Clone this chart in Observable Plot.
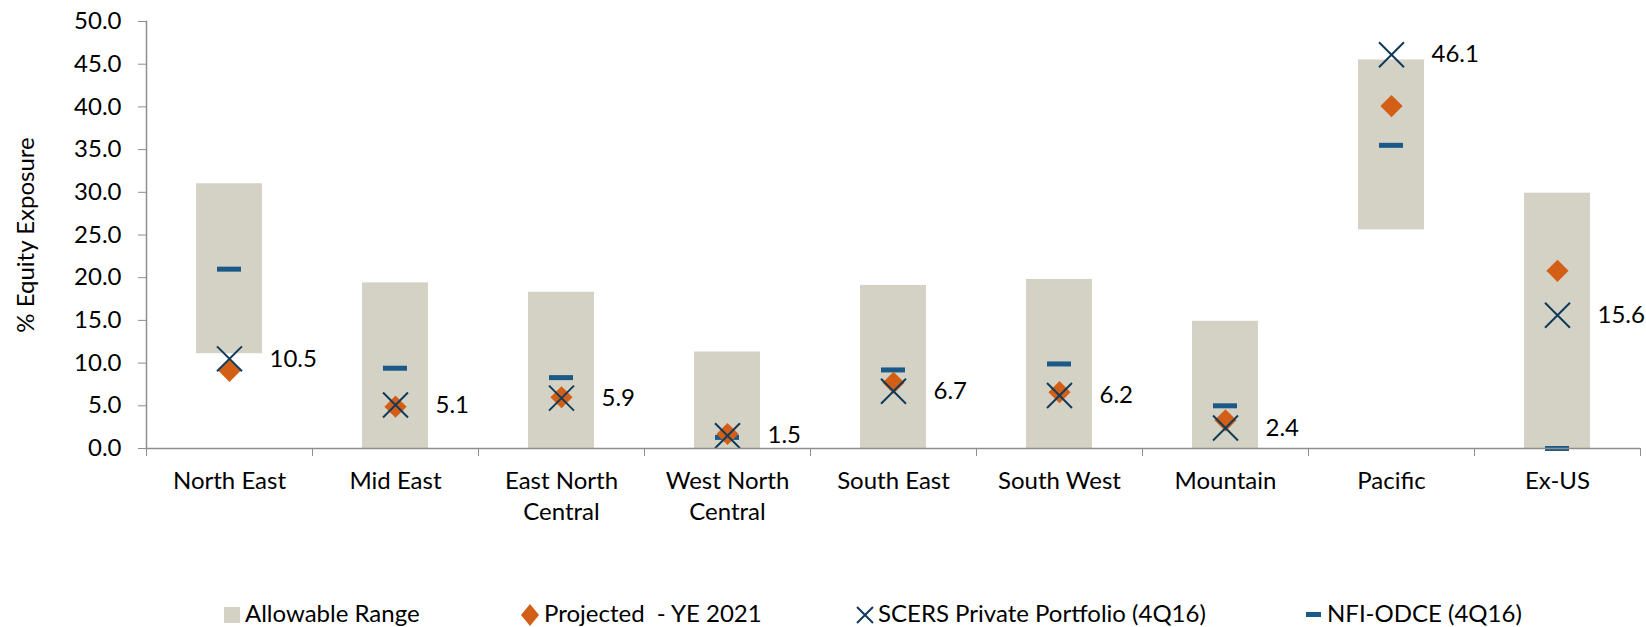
<!DOCTYPE html>
<html>
<head>
<meta charset="utf-8">
<script src="https://cdn.jsdelivr.net/npm/d3@7"></script>
<script src="https://cdn.jsdelivr.net/npm/@observablehq/plot@0.6"></script>
<style>
  html, body { margin: 0; padding: 0; background: #fff; }
  body { font-family: Lato, "Liberation Sans", sans-serif; }
  #wrap { width: 1646px; }
  #legend { position: relative; width: 1646px; height: 37px; font-size: 24px; color: #000; }
  #legend .item { position: absolute; top: 11px; line-height: 24px; white-space: pre; }
  #legend .mk { position: absolute; line-height: 0; }
  #legend .mk svg, #legend .mk div { display: block; }
</style>
</head>
<body>
<div id="wrap">
  <div id="chart"></div>
  <div id="legend"></div>
</div>
<script>
// ---- data ----
const categories = ["North East", "Mid East", "East North Central", "West North Central", "South East", "South West", "Mountain", "Pacific", "Ex-US"];
const categoryLabels = ["North East", "Mid East", "East North\nCentral", "West North\nCentral", "South East", "South West", "Mountain", "Pacific", "Ex-US"];
const rangeLow  = [11.1, 0, 0, 0, 0, 0, 0, 25.6, 0];
const rangeHigh = [31.0, 19.4, 18.3, 11.3, 19.1, 19.8, 14.9, 45.5, 29.9];
const projected = [9.1, 4.9, 6.0, 1.7, 7.7, 6.6, 3.3, 40.1, 20.8];
const scers     = [10.5, 5.1, 5.9, 1.5, 6.7, 6.2, 2.4, 46.1, 15.6];
const nfiOdce   = [21.0, 9.4, 8.3, 1.3, 9.2, 9.9, 5.0, 35.5, 0.0];
const yTicks    = [0, 5, 10, 15, 20, 25, 30, 35, 40, 45, 50];
const seriesNames = ["Allowable Range", "Projected  - YE 2021", "SCERS Private Portfolio (4Q16)", "NFI-ODCE (4Q16)"];
const yTitle = "% Equity Exposure";

// ---- styles ----
const C_RANGE = "#d4d2c5", C_PROJ = "#d35f16", C_SCERS = "#0f3b5b", C_NFI = "#1b5a88", C_AXIS = "#8e8e8e";
const FS = 24;
const W = 1646, H = 590, ML = 146, MR = 6, MT = 21, MB = 142;
const step = (W - ML - MR) / categories.length;
const labelOf = new Map(categories.map((c, i) => [c, categoryLabels[i]]));

const data = categories.map((c, i) => ({
  cat: c, low: rangeLow[i], high: rangeHigh[i], proj: projected[i], scers: scers[i], nfi: nfiOdce[i]
}));

const plot = Plot.plot({
  width: W, height: H,
  marginLeft: ML, marginRight: MR, marginTop: MT, marginBottom: MB,
  style: { fontFamily: "Lato, 'Liberation Sans', sans-serif", fontSize: FS + "px", color: "#000", background: "#fff" },
  x: { domain: categories, paddingInner: 0.6, paddingOuter: 0.3, axis: null },
  y: { domain: [0, 50], axis: null },
  marks: [
    Plot.barY(data, { x: "cat", y1: "low", y2: "high", fill: C_RANGE }),
    Plot.tickY(data, { x: "cat", y: "nfi", stroke: C_NFI, strokeWidth: 5, insetLeft: 21, insetRight: 21 }),
    Plot.dot(data, { x: "cat", y: "proj", symbol: "diamond2", r: 10, fill: C_PROJ, stroke: null }),
    Plot.dot(data, { x: "cat", y: "scers", symbol: "times", r: 11.4, stroke: C_SCERS, strokeWidth: 2 }),
    Plot.text(data, { x: "cat", y: "scers", text: d => d.scers.toFixed(1), dx: 40, textAnchor: "start", fontSize: FS, fill: "#000" }),
    // axes lines
    Plot.ruleY([0], { stroke: C_AXIS, strokeWidth: 1.5 }),
    Plot.frame({ anchor: "left", stroke: C_AXIS, strokeWidth: 1.5 }),
    // y axis with title
    Plot.axisY({ ticks: yTicks, tickFormat: d => d.toFixed(1), tickSize: 8, tickPadding: 17, stroke: C_AXIS, fill: "#000", fontSize: FS,
                 label: yTitle, labelAnchor: "center", labelArrow: "none", labelOffset: 130 }),
    // x boundary ticks
    Plot.axisX({ tickSize: 8, tickFormat: () => "", dx: -step / 2, stroke: C_AXIS, label: null }),
    Plot.axisX({ ticks: [categories[categories.length - 1]], tickSize: 8, tickFormat: () => "", dx: step / 2, stroke: C_AXIS, label: null }),
    // x category labels
    Plot.axisX({ tickSize: 0, tickPadding: 19, tickFormat: d => labelOf.get(d), fontSize: FS, lineHeight: 1.28, fill: "#000", label: null })
  ]
});
document.getElementById("chart").appendChild(plot);

// ---- legend ----
const legend = document.getElementById("legend");
const items = [
  { name: seriesNames[0], mk: `<div style="width:16px;height:16px;background:${C_RANGE}"></div>`, mkLeft: 224, mkTop: 17, textLeft: 245 },
  { name: seriesNames[1], mk: `<svg width="20" height="22"><path d="M10,0L19,11L10,22L1,11Z" fill="${C_PROJ}"/></svg>`, mkLeft: 520, mkTop: 14, textLeft: 544 },
  { name: seriesNames[2], mk: `<svg width="18" height="18"><path d="M1,1L17,17M1,17L17,1" stroke="${C_SCERS}" stroke-width="2"/></svg>`, mkLeft: 856, mkTop: 16, textLeft: 878 },
  { name: seriesNames[3], mk: `<div style="width:15px;height:5px;background:${C_NFI}"></div>`, mkLeft: 1306, mkTop: 22, textLeft: 1327 }
];
for (const it of items) {
  const m = document.createElement("div");
  m.className = "mk"; m.style.left = it.mkLeft + "px"; m.style.top = it.mkTop + "px"; m.innerHTML = it.mk;
  legend.appendChild(m);
  const t = document.createElement("div");
  t.className = "item"; t.style.left = it.textLeft + "px"; t.textContent = it.name;
  legend.appendChild(t);
}
</script>
</body>
</html>
